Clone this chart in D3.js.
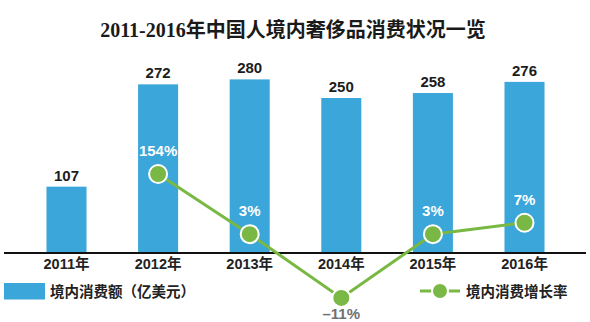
<!DOCTYPE html>
<html>
<head>
<meta charset="utf-8">
<script src="https://cdn.jsdelivr.net/npm/d3@7"></script>
<style>
  html, body { margin: 0; padding: 0; background: #fff; }
  svg { display: block; }
  .num { font-family: "Liberation Sans", Arial, "Noto Sans CJK SC", sans-serif; font-weight: bold; }
</style>
</head>
<body>
<svg id="chart" width="590" height="322"></svg>
<script>
// 2011–2016 domestic luxury spending by Chinese consumers
const years = ["2011年", "2012年", "2013年", "2014年", "2015年", "2016年"];
const spending = [107, 272, 280, 250, 258, 276];          // 亿美元
const growthYears = ["2012年", "2013年", "2014年", "2015年", "2016年"];
const growth = [154, 3, -11, 3, 7];                       // %
const titleText = "2011-2016年中国人境内奢侈品消费状况一览";
const legendBar = "境内消费额（亿美元）";
const legendLine = "境内消费增长率";

const W = 590, H = 322;
const baseY = 253;
const barColor = "#3aa6da";
const lineColor = "#78b843";
const dotColor = "#7ab846";

const svg = d3.select("#chart");

// Title
svg.append("text")
  .attr("x", 293).attr("y", 37)
  .attr("text-anchor", "middle")
  .style("font-family", "\"Liberation Serif\", \"DejaVu Serif\", \"Noto Sans CJK SC\", serif")
  .style("font-weight", "bold")
  .style("font-size", "20px")
  .attr("fill", "#1a1a1a")
  .text(titleText);

// Scales
const x = d3.scaleBand()
  .domain(years)
  .range([20.7, 570.3])
  .paddingInner(0.563)
  .paddingOuter(0.2815);

const y = d3.scaleLinear()
  .domain([0, 300])
  .range([baseY, baseY - 186]);

// growth rates span a wide range, so a symmetric-log scale keeps small values readable
const gy = d3.scaleSymlog()
  .constant(1)
  .domain([0, 154])
  .range([257, 174]);

const cx = d => x(d) + x.bandwidth() / 2;

// Bars
svg.append("g").selectAll("rect")
  .data(spending)
  .join("rect")
  .attr("x", (d, i) => x(years[i]))
  .attr("y", d => y(d))
  .attr("width", x.bandwidth())
  .attr("height", d => baseY - y(d))
  .attr("fill", barColor);

// Bar value labels
svg.append("g").selectAll("text")
  .data(spending)
  .join("text")
  .attr("class", "num")
  .attr("x", (d, i) => cx(years[i]))
  .attr("y", d => y(d) - 6)
  .attr("text-anchor", "middle")
  .style("font-size", "15px")
  .attr("fill", "#1c1c1c")
  .text(d => d);

// Baseline
svg.append("line")
  .attr("x1", 4).attr("x2", 586)
  .attr("y1", baseY).attr("y2", baseY)
  .attr("stroke", "#111")
  .attr("stroke-width", 2);

// Category axis labels
const xAxis = svg.append("g")
  .attr("transform", `translate(0,${baseY})`)
  .call(d3.axisBottom(x).tickSize(0).tickPadding(6));
xAxis.select(".domain").remove();
xAxis.selectAll("text")
  .attr("class", "num")
  .style("font-size", "14.5px")
  .attr("fill", "#222");

// Growth line
const pts = growth.map((v, i) => ({ year: growthYears[i], v }));
svg.append("path")
  .datum(pts)
  .attr("fill", "none")
  .attr("stroke", lineColor)
  .attr("stroke-width", 3)
  .attr("d", d3.line().x(d => cx(d.year)).y(d => gy(d.v)));

svg.append("g").selectAll("circle")
  .data(pts)
  .join("circle")
  .attr("cx", d => cx(d.year))
  .attr("cy", d => gy(d.v))
  .attr("r", 9)
  .attr("fill", dotColor)
  .attr("stroke", "#fff")
  .attr("stroke-width", 2);

const fmtPct = v => (v < 0 ? "–" + Math.abs(v) : v) + "%";
svg.append("g").selectAll("text")
  .data(pts)
  .join("text")
  .attr("class", "num")
  .attr("x", d => cx(d.year))
  .attr("y", d => d.v < 0 ? gy(d.v) + 21 : gy(d.v) - 18)
  .attr("text-anchor", "middle")
  .style("font-size", "15px")
  .attr("fill", d => d.v < 0 ? "#707070" : "#fff")
  .text(d => fmtPct(d.v));

// Legend
const lg = svg.append("g");
lg.append("rect")
  .attr("x", 4).attr("y", 283)
  .attr("width", 41).attr("height", 16.5)
  .attr("fill", barColor);
lg.append("text")
  .attr("x", 50).attr("y", 296.5)
  .style("font-family", "\"Noto Sans CJK SC\", sans-serif")
  .style("font-weight", "bold")
  .style("font-size", "14.5px")
  .attr("fill", "#222")
  .text(legendBar);

lg.append("line")
  .attr("x1", 420).attr("x2", 460)
  .attr("y1", 291).attr("y2", 291)
  .attr("stroke", lineColor)
  .attr("stroke-width", 3);
lg.append("circle")
  .attr("cx", 440).attr("cy", 291)
  .attr("r", 8)
  .attr("fill", dotColor)
  .attr("stroke", "#fff")
  .attr("stroke-width", 2);
lg.append("text")
  .attr("x", 466).attr("y", 296.5)
  .style("font-family", "\"Noto Sans CJK SC\", sans-serif")
  .style("font-weight", "bold")
  .style("font-size", "14.5px")
  .attr("fill", "#222")
  .text(legendLine);
</script>
</body>
</html>
